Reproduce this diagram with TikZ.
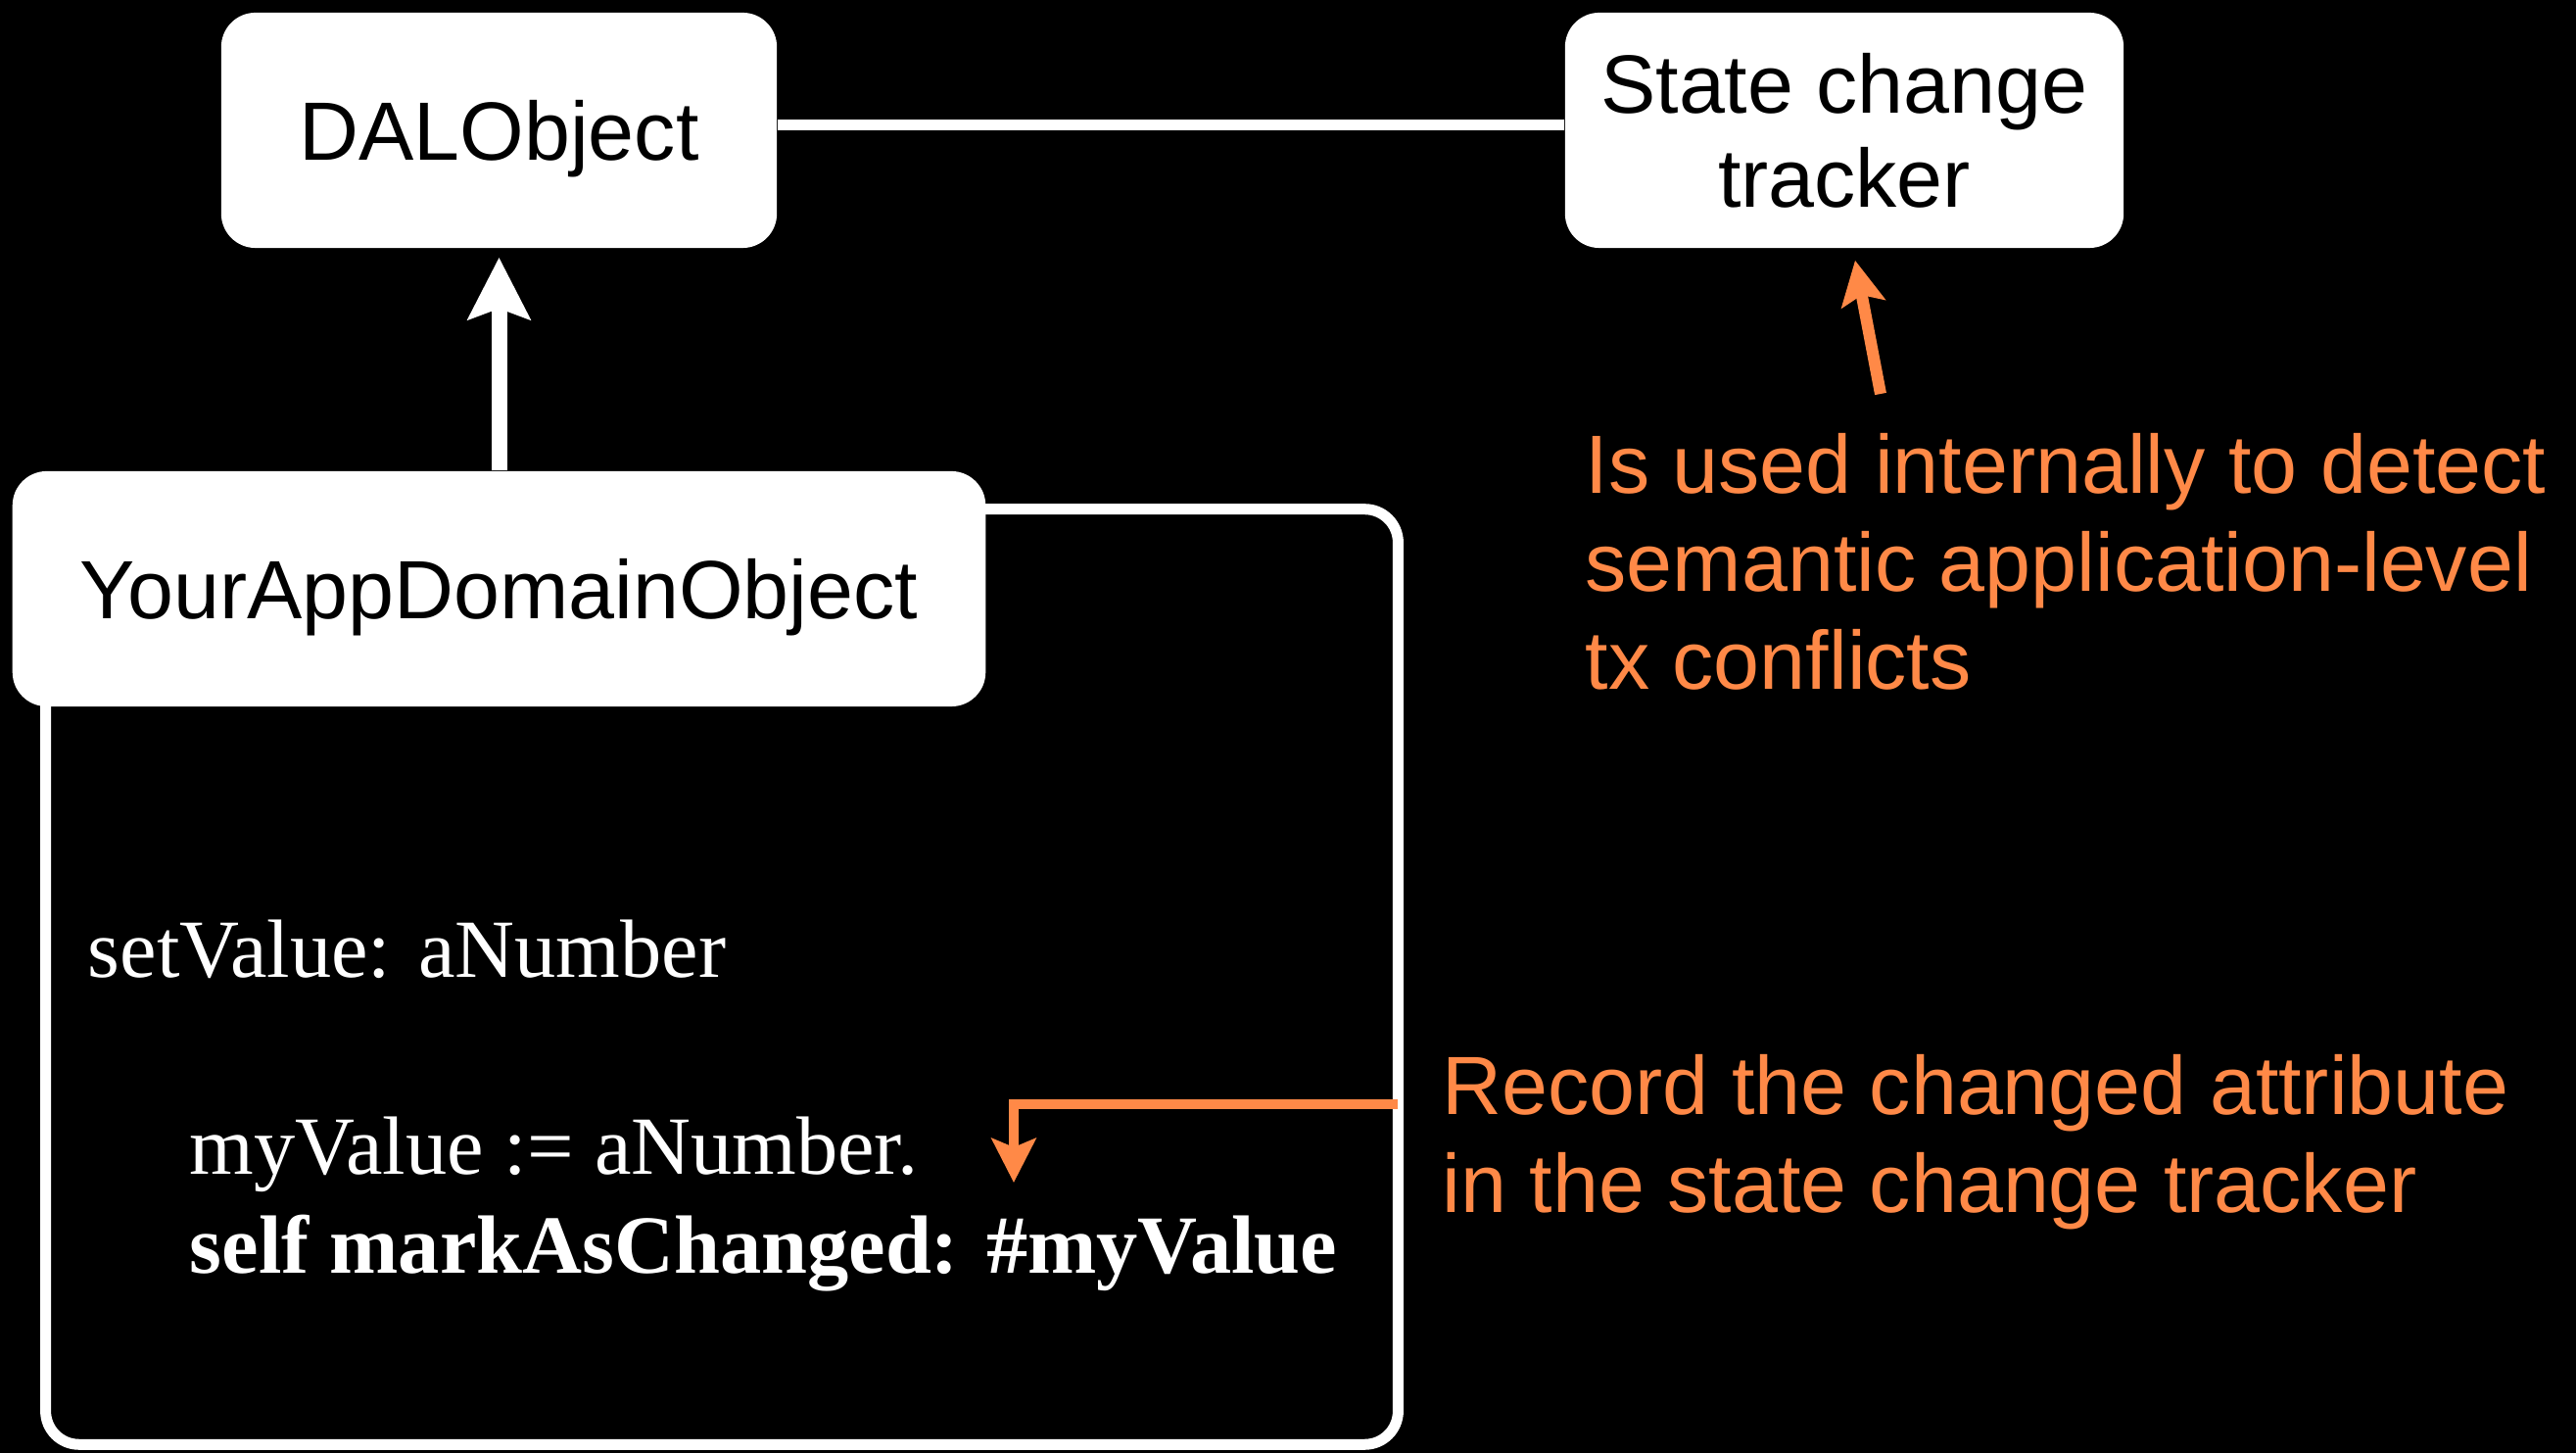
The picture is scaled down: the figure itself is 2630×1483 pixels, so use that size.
\documentclass[tikz,border=0pt]{standalone}
\usepackage{fontspec}
\usepackage{tikz}
\usetikzlibrary{arrows.meta,positioning}
\setmainfont{Liberation Sans}
\newfontfamily\codefont{Liberation Serif}
\definecolor{note-orange}{RGB}{255,137,71}
\tikzset{
    white-box/.style = {draw=none, fill=white, text=black, rectangle, rounded corners=0.35cm, minimum height=2.4cm, align=center, font=\fontsize{24}{27.3}\selectfont},
    code-frame/.style = {draw=white, line width=0.11cm, rectangle, rounded corners=0.34cm, minimum width=13.8cm, minimum height=9.54cm},
    code-line/.style = {text=white, anchor=base west, inner sep=0pt, font=\codefont\fontsize{24}{28.45}\selectfont},
    orange-note/.style = {text=note-orange, anchor=base west, inner sep=0pt, align=left, font=\fontsize{24}{28.45}\selectfont},
    link-line/.style = {draw=white, line width=0.11cm},
    white-arrow/.style = {draw=white, line width=0.16cm, -{Stealth[length=0.63cm, width=0.63cm, inset=0.11cm]}},
    orange-arrow/.style = {draw=note-orange, line width=0.12cm, -{Stealth[length=0.45cm, width=0.45cm, inset=0.09cm]}},
}

\begin{document}
\begin{tikzpicture}[x=0.01cm, y=-0.01cm]
\fill[black] (0,0) rectangle (2630,1483);
\useasboundingbox (0,0) rectangle (2630,1483);
\node[white-box, minimum width=5.67cm, text depth=0pt] (dal) at (509.5,133) {DALObject};
\node[white-box, minimum width=5.7cm] (tracker) at (1883,133) {State change\\tracker};
\node[code-frame] (body) at (737,997) {};
\node[white-box, minimum width=9.93cm, text depth=0pt] (app) at (509.5,601) {YourAppDomainObject};
\draw[link-line] ([yshift=0.05cm]dal.east) -- ([yshift=0.05cm]tracker.west);
\draw[white-arrow] (app.north) -- ([yshift=-0.09cm]dal.south);

\node[code-line] (setter) at (89,998) {setValue: aNumber};
\node[code-line] (assign) at (193,1199) {myValue := aNumber.};
\node[code-line, font=\codefont\bfseries\fontsize{24}{28.45}\selectfont] (mark) at (193,1300) {self markAsChanged: \#myValue};

\node[orange-note] (used-note) at (1618,704) {Is used internally to detect\\semantic application-level\\tx conflicts};
\node[orange-note] (record-note) at (1472,1238) {Record the changed attribute\\in the state change tracker};

\coordinate (used-from) at (1920,402);
\draw[orange-arrow] (used-from) -- ([xshift=0.11cm, yshift=-0.12cm]tracker.south);
\coordinate (record-from) at (1427,1127);
\coordinate (record-to) at (1035,1207);
\draw[orange-arrow, line width=0.105cm] (record-from) -| (record-to);
\end{tikzpicture}
\end{document}
